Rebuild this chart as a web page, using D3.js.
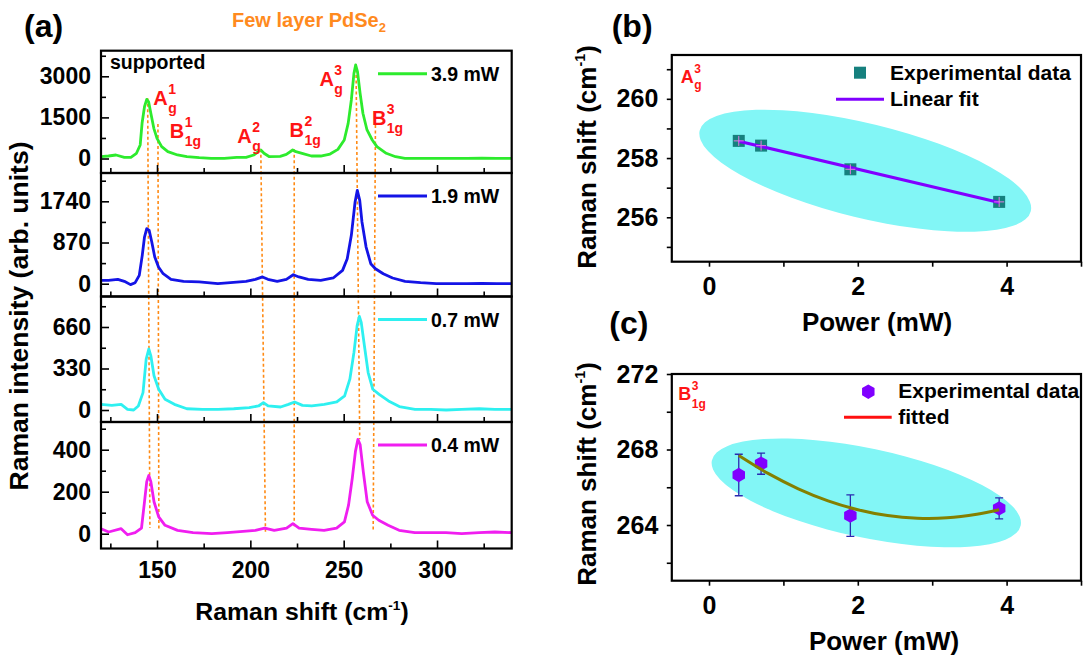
<!DOCTYPE html>
<html><head><meta charset="utf-8">
<script src="https://cdn.jsdelivr.net/npm/d3@7"></script>
<style>
body{margin:0;background:#fff}
text{font-family:"Liberation Sans",Arial,sans-serif;font-weight:bold}
</style></head>
<body><svg id="c" width="1088" height="659"></svg>
<script>
// ---------------- DATA ----------------
// Panel (a): Raman spectra (Raman shift cm-1, intensity arb. units)
const shift39=[120,124,128,132.5,136,139,141,142,143.3,144.5,145.5,146.7,148.3,150,152.5,155.8,161,166,172.6,179,186,192.7,197.7,201.8,204.3,205.6,207.3,210.2,216,219.3,222.7,224.4,227.7,232.7,237.7,242.7,246.9,250.3,252.4,254.1,255.5,256.4,257.4,258.8,260.3,262.5,265.3,267.8,272.8,277.8,282.8,291,299.5,308,316,324,332,340];
const int39=[66,91,128,43,43,190,493,1284,1891,2160,2070,1650,1101,737,432,249,128,66,30,6,6,43,43,128,249,310,190,66,80,150,310,249,190,91,91,164,334,675,1284,2136,3110,3414,3170,2379,1650,1041,675,432,190,66,6,6,6,6,6,10,5,8];
const shift19=[120,124,129,132.5,135.8,138.3,140.5,142.1,143.3,144.5,145.8,147.2,148.8,150.8,153.3,157.5,164.2,172.6,182.6,189.3,197.7,202.7,206.5,209.4,214.4,219.3,223,226,231,237.7,244.4,249.4,251.9,254.1,256.1,257.3,258.6,259.8,262,264.5,267,271.2,276.2,282.9,291.2,299.6,308,316,324,332,340];
const int19=[72,72,93,51,-19,22,176,599,986,1162,1126,880,563,352,211,93,51,37,2,22,51,93,143,93,51,93,190,143,93,72,121,282,528,1021,1725,1971,1760,1303,775,423,317,211,121,51,22,2,2,2,5,2,2];
const shift07=[120,125.8,130.8,134.2,137.5,140,142.5,144.2,145.6,146.7,148.4,150.9,154.3,159.3,166,174.3,182.7,191.1,199.4,204.4,207,209.5,216.2,220.4,223.7,227.9,232.9,239.6,246.3,250.5,253.3,255.5,257.2,258.4,259.4,261.1,263.1,265.6,269,274,279.8,288.2,296.5,304.9,313.2,322.6,331,340];
const int07=[45,37,45,5,0,32,138,405,485,431,272,165,85,45,10,5,5,10,19,32,59,32,24,45,64,37,32,45,64,112,245,458,671,745,697,511,298,165,125,72,27,5,5,0,5,10,5,5];
const shift04=[120,124.1,130.8,134.2,138.3,141.7,143.3,144.5,145.6,146.7,148.4,150.9,154.3,161,169.3,179.3,187.7,196.1,202.7,207.7,212.8,219.4,222.8,226.1,232.8,239.5,246.2,250.4,252.6,254.6,256.3,257.6,258.8,260.5,262.6,265.5,268.8,273.8,279.7,288.1,296.4,304.8,313.2,322.6,331,340];
const int04=[24,8,24,-5,5,27,152,248,277,248,152,80,40,16,5,0,5,11,16,27,16,27,48,27,21,16,27,56,136,264,392,449,425,296,152,88,64,40,16,5,5,5,0,5,8,5];
const powerLabels=["3.9 mW","1.9 mW","0.7 mW","0.4 mW"];
const yMajor39=[0,1500,3000], yMinor39=[750,2250,3750];
const yMajor19=[0,870,1740], yMinor19=[435,1305,2175];
const yMajor07=[0,330,660],  yMinor07=[165,495,825];
const yMajor04=[0,200,400],  yMinor04=[100,300,500];
const xMajorA=[150,200,250,300], xMinorA=[125,175,225,275,325];
// peak guide lines (top in 3.9 mW panel, bottom in 0.4 mW panel)
const modeMain=["A","B","A","B","A","B"];
const modeSup=["1","1","2","2","3","3"];
const modeSub=["g","1g","g","1g","g","1g"];
const guideTopShift=[145.0,150.5,205.6,223.5,256.6,267.0];
const guideTopInt=[2197,1259,336,336,3449,1223];
const guideBotShift=[146.2,151.0,208.1,223.5,258.6,265.8];
const guideBotInt=[27,21,8,23,450,18];
const labelShift=[148.0,156.8,193.0,221.0,237.0,265.1];
const labelInt=[1953,737,566,774,2646,1223];

// Panel (b): A_g^3 mode
const powerB=[0.4,0.7,1.9,3.9];
const shiftB=[258.58,258.42,257.62,256.52];
const fitBx=[0.4,3.9], fitBy=[258.57,256.50];
const xMajorR=[0,2,4], xMinorR=[1,3,5];
const yMajorB=[256,258,260], yMinorB=[255,257,259,261];
// Panel (c): B_1g^3 mode
const powerC=[0.4,0.7,1.9,3.9];
const shiftC=[266.65,267.25,264.50,264.88];
const errC=[1.1,0.56,1.1,0.56];
const fitCx=[0.4,0.8,1.2,1.6,2.0,2.4,2.8,3.2,3.6,3.9];
const fitCy=[267.68,266.72,265.92,265.28,264.81,264.50,264.36,264.38,264.57,264.81];
const yMajorC=[264,268,272], yMinorC=[262,266,270];

// ---------------- DRAW ----------------
const svg=d3.select("#c");
const FONT='"Liberation Sans",Arial,sans-serif';
function styleAxis(g,fs){
  g.attr("font-family",FONT).attr("font-size",fs).attr("font-weight","bold");
  g.select(".domain").remove();
  g.selectAll(".tick line").attr("stroke","#000").attr("stroke-width",1.6);
  g.selectAll(".tick text").attr("fill","#000");
}
function subsup(g,x,y,main,sup,sub,fs,fs2,dSup,dSub,color){
  const t=g.append("text").attr("x",x).attr("y",y).attr("font-size",fs).attr("fill",color).text(main);
  const w=t.node().getComputedTextLength();
  g.append("text").attr("x",x+w+0.5).attr("y",y+dSup).attr("font-size",fs2).attr("fill",color).text(sup);
  g.append("text").attr("x",x+w+0.5).attr("y",y+dSub).attr("font-size",fs2).attr("fill",color).text(sub);
}
function cmTitle(t,fs){
  t.append("tspan").text("Raman shift (cm");
  t.append("tspan").attr("font-size",fs*0.55).attr("dy",-fs*0.42).text("-1");
  t.append("tspan").attr("dy",fs*0.42).text(")");
}

// ---- panel (a)
const xA=d3.scaleLinear().domain([120,340]).range([101,511.7]);
const X0=xA.range()[0], X1=xA.range()[1];
const spectra=[
 {x:shift39,y:int39,color:"#2DEB2D",top:50.7,bot:173,dom:[-529,3934],maj:yMajor39,min:yMinor39},
 {x:shift19,y:int19,color:"#1414E6",top:173,bot:296.5,dom:[-270,2338],maj:yMajor19,min:yMinor19},
 {x:shift07,y:int07,color:"#2EF0F0",top:296.5,bot:422,dom:[-95.4,902.5],maj:yMajor07,min:yMinor07},
 {x:shift04,y:int04,color:"#F01EF0",top:422,bot:548.5,dom:[-70.5,532],maj:yMajor04,min:yMinor04}
];
const yScalesA=spectra.map(p=>d3.scaleLinear().domain(p.dom).range([p.bot,p.top]));
const gA=svg.append("g");
const yTop=yScalesA[0], yBot=yScalesA[3];
gA.selectAll("line.guide").data(d3.range(guideTopShift.length)).join("line")
  .attr("x1",k=>xA(guideTopShift[k])).attr("y1",k=>yTop(guideTopInt[k]))
  .attr("x2",k=>xA(guideBotShift[k])).attr("y2",k=>yBot(guideBotInt[k]))
  .attr("stroke","#FF8A14").attr("stroke-width",1.6).attr("stroke-dasharray","3,2.5");
spectra.forEach((p,i)=>{
  const y=yScalesA[i];
  const cid="clipA"+i;
  svg.append("clipPath").attr("id",cid).append("rect")
     .attr("x",X0).attr("y",p.top).attr("width",X1-X0).attr("height",p.bot-p.top);
  gA.append("path").datum(d3.range(p.x.length)).attr("clip-path",`url(#${cid})`)
    .attr("fill","none").attr("stroke",p.color).attr("stroke-width",2.8).attr("stroke-linejoin","round")
    .attr("d",d3.line().x(k=>xA(p.x[k])).y(k=>y(p.y[k])));
  const ya=gA.append("g").attr("transform",`translate(${X0},0)`)
    .call(d3.axisLeft(y).tickValues(p.maj).tickSize(-8).tickPadding(10).tickFormat(d3.format("d")));
  styleAxis(ya,23);
  const ym=gA.append("g").attr("transform",`translate(${X0},0)`)
    .call(d3.axisLeft(y).tickValues(p.min).tickSize(-5).tickFormat(""));
  styleAxis(ym,23);
  const xa=gA.append("g").attr("transform",`translate(0,${p.bot})`)
    .call(d3.axisBottom(xA).tickValues(xMajorA).tickSize(-8).tickPadding(13).tickFormat(i===3?d3.format("d"):""));
  styleAxis(xa,23);
  const xm=gA.append("g").attr("transform",`translate(0,${p.bot})`)
    .call(d3.axisBottom(xA).tickValues(xMinorA).tickSize(-5).tickFormat(""));
  styleAxis(xm,23);
  gA.append("rect").attr("x",X0).attr("y",p.top).attr("width",X1-X0).attr("height",p.bot-p.top)
    .attr("fill","none").attr("stroke","#000").attr("stroke-width",2.2);
  const ly=p.top+23;
  gA.append("line").attr("x1",378).attr("x2",427).attr("y1",ly).attr("y2",ly).attr("stroke",p.color).attr("stroke-width",3);
  gA.append("text").attr("x",431).attr("y",ly+7).attr("font-size",19.5).text(powerLabels[i]);
});
modeMain.forEach((m,k)=>{
  subsup(gA,xA(labelShift[k]),yTop(labelInt[k]),m,modeSup[k],modeSub[k],20,14,-11,8,"#FF1414");
});
gA.append("text").attr("x",110).attr("y",69).attr("font-size",19.5).text("supported");
gA.append("text").attr("x",24).attr("y",36.5).attr("font-size",32).text("(a)");
const ttl=gA.append("text").attr("x",309).attr("y",27).attr("font-size",20).attr("fill","#FF8A1E").attr("text-anchor","middle");
ttl.append("tspan").text("Few layer PdSe");
ttl.append("tspan").attr("font-size",13).attr("dy",5).text("2");
cmTitle(gA.append("text").attr("x",302).attr("y",620).attr("font-size",24.8).attr("text-anchor","middle"),24.8);
gA.append("text").attr("transform","translate(28,316) rotate(-90)").attr("font-size",26.5).attr("text-anchor","middle")
  .text("Raman intensity (arb. units)");

// ---- panels (b) and (c)
const xR=d3.scaleLinear().domain([-0.5,5]).range([671.8,1081]);
function rightFrame(g,y,maj,min){
  const [y0,y1]=y.range();
  const ya=g.append("g").attr("transform",`translate(${xR.range()[0]},0)`)
    .call(d3.axisLeft(y).tickValues(maj).tickSize(5).tickPadding(8.5).tickFormat(d3.format("d")));
  styleAxis(ya,25);
  const ym=g.append("g").attr("transform",`translate(${xR.range()[0]},0)`)
    .call(d3.axisLeft(y).tickValues(min).tickSize(5).tickFormat(""));
  styleAxis(ym,25);
  const xa=g.append("g").attr("transform",`translate(0,${y0})`)
    .call(d3.axisBottom(xR).tickValues(xMajorR).tickSize(5).tickPadding(11).tickFormat(d3.format("d")));
  styleAxis(xa,25);
  const xm=g.append("g").attr("transform",`translate(0,${y0})`)
    .call(d3.axisBottom(xR).tickValues(xMinorR).tickSize(5).tickFormat(""));
  styleAxis(xm,25);
  g.append("rect").attr("x",xR.range()[0]).attr("y",y1).attr("width",xR.range()[1]-xR.range()[0]).attr("height",y0-y1)
    .attr("fill","none").attr("stroke","#000").attr("stroke-width",2.2);
}
function hexPath(x,y,r){
  return d3.range(6).map(i=>{const a=Math.PI/180*(-90+60*i);return [x+r*Math.cos(a),y+r*Math.sin(a)];})
    .map((p,i)=>(i?"L":"M")+p[0].toFixed(2)+","+p[1].toFixed(2)).join("")+"Z";
}
// (b)
const yB=d3.scaleLinear().domain([254.5,261.48]).range([261.7,55]);
const gB=svg.append("g");
{
  const cx=xR(2.10), cy=yB(257.57);
  gB.append("ellipse").attr("cx",cx).attr("cy",cy).attr("rx",170.4).attr("ry",47.2)
    .attr("transform",`rotate(13.7,${cx},${cy})`).attr("fill","#82F6F6");
}
gB.selectAll("rect.pt").data(d3.range(powerB.length)).join("rect")
  .attr("x",k=>xR(powerB[k])-6).attr("y",k=>yB(shiftB[k])-6).attr("width",12).attr("height",12).attr("fill","#16807E");
gB.append("path").datum(d3.range(fitBx.length)).attr("fill","none").attr("stroke","#8000FF").attr("stroke-width",3)
  .attr("d",d3.line().x(k=>xR(fitBx[k])).y(k=>yB(fitBy[k])));
gB.selectAll("path.cross").data(d3.range(powerB.length)).join("path")
  .attr("d",k=>{const x=xR(powerB[k]),y=yB(shiftB[k]);return `M${x-5},${y}H${x+5}M${x},${y-5}V${y+5}`;})
  .attr("stroke","#E27AE2").attr("stroke-width",1);
rightFrame(gB,yB,yMajorB,yMinorB);
gB.append("rect").attr("x",854).attr("y",66.7).attr("width",12).attr("height",12).attr("fill","#16807E");
gB.append("text").attr("x",890).attr("y",80).attr("font-size",21).text("Experimental data");
gB.append("line").attr("x1",836).attr("x2",884).attr("y1",99.3).attr("y2",99.3).attr("stroke","#8000FF").attr("stroke-width",3);
gB.append("text").attr("x",890).attr("y",106).attr("font-size",21).text("Linear fit");
subsup(gB,680.7,83.3,"A","3","g",18,12,-10,6,"#FF1414");
gB.append("text").attr("x",611.7).attr("y",36.6).attr("font-size",32).text("(b)");
gB.append("text").attr("x",877).attr("y",331).attr("font-size",26).attr("text-anchor","middle").text("Power (mW)");
cmTitle(gB.append("text").attr("transform","translate(596,157) rotate(-90)").attr("font-size",26).attr("text-anchor","middle"),26);

// (c)
const yC=d3.scaleLinear().domain([261.05,272]).range([580.7,374]);
const gC=svg.append("g");
{
  const cx=xR(2.114), cy=yC(265.70);
  gC.append("ellipse").attr("cx",cx).attr("cy",cy).attr("rx",157.8).attr("ry",44.6)
    .attr("transform",`rotate(11.9,${cx},${cy})`).attr("fill","#82F6F6");
}
gC.selectAll("path.err").data(d3.range(powerC.length)).join("path")
  .attr("d",k=>{const x=xR(powerC[k]),a=yC(shiftC[k]+errC[k]),b=yC(shiftC[k]-errC[k]);
     return `M${x-4},${a}H${x+4}M${x},${a}V${b}M${x-4},${b}H${x+4}`;})
  .attr("stroke","#2A2AB0").attr("stroke-width",1.3).attr("fill","none");
gC.selectAll("path.hex").data(d3.range(powerC.length)).join("path")
  .attr("d",k=>hexPath(xR(powerC[k]),yC(shiftC[k]),7.2)).attr("fill","#8000FF");
gC.append("path").datum(d3.range(fitCx.length)).attr("fill","none").attr("stroke","#848000").attr("stroke-width",3)
  .attr("d",d3.line().curve(d3.curveCatmullRom).x(k=>xR(fitCx[k])).y(k=>yC(fitCy[k])));
rightFrame(gC,yC,yMajorC,yMinorC);
gC.append("path").attr("d",hexPath(868.3,391.7,7.2)).attr("fill","#8000FF");
gC.append("text").attr("x",898.3).attr("y",398.3).attr("font-size",21).text("Experimental data");
gC.append("line").attr("x1",844).attr("x2",891.7).attr("y1",417.3).attr("y2",417.3).attr("stroke","#FF1010").attr("stroke-width",3);
gC.append("text").attr("x",898.3).attr("y",424.3).attr("font-size",21).text("fitted");
subsup(gC,678.3,400,"B","3","1g",18,12,-10,8,"#FF1414");
gC.append("text").attr("x",609.3).attr("y",334).attr("font-size",32).text("(c)");
gC.append("text").attr("x",884).attr("y",649.5).attr("font-size",26).attr("text-anchor","middle").text("Power (mW)");
cmTitle(gC.append("text").attr("transform","translate(596,474) rotate(-90)").attr("font-size",26).attr("text-anchor","middle"),26);
</script></body></html>
